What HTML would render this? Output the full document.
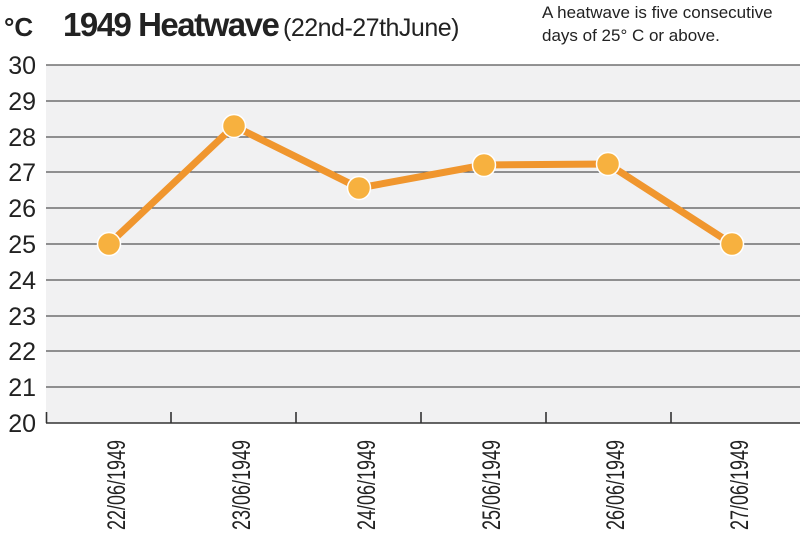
<!DOCTYPE html>
<html><head><style>
body{margin:0;background:#fff;}
svg text{font-family:"Liberation Sans Narrow","Liberation Sans",sans-serif;}
</style></head><body>
<svg width="800" height="536" viewBox="0 0 800 536" xmlns="http://www.w3.org/2000/svg">
<rect x="46" y="65" width="754" height="358" fill="#f1f1f2"/>
<g stroke="#555" stroke-width="1.3">
<line x1="46" x2="800" y1="65" y2="65"/>
<line x1="46" x2="800" y1="101" y2="101"/>
<line x1="46" x2="800" y1="137" y2="137"/>
<line x1="46" x2="800" y1="172" y2="172"/>
<line x1="46" x2="800" y1="208" y2="208"/>
<line x1="46" x2="800" y1="244" y2="244"/>
<line x1="46" x2="800" y1="280" y2="280"/>
<line x1="46" x2="800" y1="316" y2="316"/>
<line x1="46" x2="800" y1="351" y2="351"/>
<line x1="46" x2="800" y1="387" y2="387"/>
</g>
<g stroke="#333" stroke-width="1.6">
<line x1="46" x2="800" y1="423" y2="423"/>
<line x1="46.5" x2="46.5" y1="412" y2="423"/>
<line x1="171" x2="171" y1="412" y2="423"/>
<line x1="296" x2="296" y1="412" y2="423"/>
<line x1="421" x2="421" y1="412" y2="423"/>
<line x1="546" x2="546" y1="412" y2="423"/>
<line x1="671" x2="671" y1="412" y2="423"/>
</g>
<g font-size="25" fill="#222" text-anchor="end">
<text x="36" y="74">30</text><text x="36" y="110">29</text><text x="36" y="146">28</text>
<text x="36" y="181">27</text><text x="36" y="217">26</text><text x="36" y="253">25</text>
<text x="36" y="289">24</text><text x="36" y="325">23</text><text x="36" y="360">22</text>
<text x="36" y="396">21</text><text x="36" y="432">20</text>
</g>
<polyline points="109,244 234,126 359,188 484,165 608,164 732,244" fill="none" stroke="#f0962e" stroke-width="7" stroke-linejoin="round"/>
<g fill="#f7b13f" stroke="#fff" stroke-width="1.5">
<circle cx="109" cy="244" r="11.5"/><circle cx="234" cy="126" r="11.5"/><circle cx="359" cy="188" r="11.5"/>
<circle cx="484" cy="165" r="11.5"/><circle cx="608" cy="164" r="11.5"/><circle cx="732" cy="244" r="11.5"/>
</g>
<g font-size="25" fill="#222" text-anchor="end">
<text transform="translate(125,440) rotate(-90)" textLength="90" lengthAdjust="spacingAndGlyphs">22/06/1949</text>
<text transform="translate(250,440) rotate(-90)" textLength="90" lengthAdjust="spacingAndGlyphs">23/06/1949</text>
<text transform="translate(375,440) rotate(-90)" textLength="90" lengthAdjust="spacingAndGlyphs">24/06/1949</text>
<text transform="translate(500,440) rotate(-90)" textLength="90" lengthAdjust="spacingAndGlyphs">25/06/1949</text>
<text transform="translate(624,440) rotate(-90)" textLength="90" lengthAdjust="spacingAndGlyphs">26/06/1949</text>
<text transform="translate(748,440) rotate(-90)" textLength="90" lengthAdjust="spacingAndGlyphs">27/06/1949</text>
</g>
<text x="4" y="36" font-size="26" font-weight="bold" fill="#222">°C</text>
<text x="63" y="36" font-size="33" font-weight="bold" fill="#222" letter-spacing="-1.5">1949 Heatwave</text>
<text x="283" y="36" font-size="25" fill="#222" letter-spacing="-0.5">(22nd-27thJune)</text>
<text x="542" y="18" font-size="17" fill="#222">A heatwave is five consecutive</text>
<text x="542" y="41" font-size="17" fill="#222">days of 25° C or above.</text>
</svg>
</body></html>
